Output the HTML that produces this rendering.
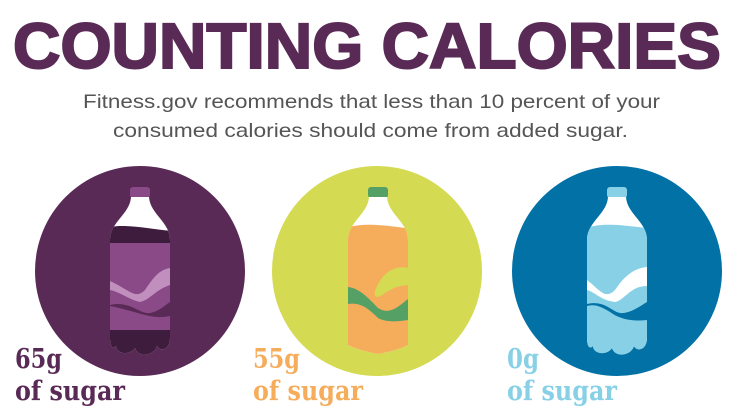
<!DOCTYPE html>
<html><head><meta charset="utf-8"><style>
html,body{margin:0;padding:0;background:#fff;width:740px;height:418px;overflow:hidden}
</style></head><body>
<svg width="740" height="418" viewBox="0 0 740 418" xmlns="http://www.w3.org/2000/svg">
<defs>
<path id="bt" d="M-9,197 L9,197 C10,214 30,222 30,240 L30,338 C30,350 20,352 17,346 C14,356 -2,358 -5,348 C-10,356 -24,354 -24,346 C-28,350 -30,345 -30,338 L-30,240 C-30,222 -10,214 -9,197 Z"/>
<clipPath id="c1"><use href="#bt" x="140"/></clipPath>
<clipPath id="c2"><path d="M-9,197 L9,197 C10,214 30,222 30,240 L30,345 C20,350 10,352 0,354 C-10,352 -20,350 -30,345 L-30,240 C-30,222 -10,214 -9,197 Z" transform="translate(378,0)"/></clipPath>
<clipPath id="c3"><use href="#bt" x="617"/></clipPath>
</defs>
<text x="13" y="68" font-family="Liberation Sans, sans-serif" font-weight="bold" font-size="64" fill="#5a2a57" stroke="#5a2a57" stroke-width="2" textLength="708" lengthAdjust="spacingAndGlyphs">COUNTING CALORIES</text>
<g font-family="Liberation Sans, sans-serif" font-size="19.5" fill="#555">
<text x="83" y="108" textLength="577" lengthAdjust="spacingAndGlyphs">Fitness.gov recommends that less than 10 percent of your</text>
<text x="113" y="137" textLength="515" lengthAdjust="spacingAndGlyphs">consumed calories should come from added sugar.</text>
</g>
<circle cx="140" cy="271" r="105" fill="#5a2a57"/>
<circle cx="377" cy="271" r="105" fill="#d4db52"/>
<circle cx="617" cy="271" r="105" fill="#0271a6"/>
<rect x="130" y="187" width="20" height="11" rx="3" fill="#8a4a88"/>
<g clip-path="url(#c1)">
<rect x="100" y="190" width="80" height="170" fill="#fff"/>
<path d="M100,230 C120,222 140,228 180,232 L180,360 L100,360Z" fill="#3e1c3e"/>
<rect x="110" y="243" width="60" height="87" fill="#8a4a88"/>
<path d="M110,281 C130,290 135,300 145,290 C155,275 160,270 170,268 L170,285 C155,290 150,300 140,302 C130,300 120,292 110,290Z" fill="#c08fbd"/>
<path d="M110,305 C130,300 140,315 150,313 C160,311 165,305 170,302 L170,316 C150,320 140,312 110,306Z" fill="#5a2a57"/>
</g>
<rect x="368" y="187" width="20" height="11" rx="3" fill="#55a064"/>
<g clip-path="url(#c2)">
<rect x="340" y="190" width="80" height="170" fill="#fff"/>
<path d="M340,230 C360,222 378,224 420,230 L420,360 L340,360Z" fill="#f5ad5c"/>
<path d="M382,278 C390,268 400,266 408,268 L408,285 C395,286 390,290 382,295 C375,300 370,295 382,278Z" fill="#d4db52"/>
<path d="M348,287 C360,288 370,300 378,308 C390,316 400,305 408,299 L408,320 C395,322 385,322 378,318 C368,308 360,302 348,304Z" fill="#55a064"/>
</g>
<rect x="607" y="187" width="20" height="11" rx="3" fill="#87d0e6"/>
<g clip-path="url(#c3)">
<rect x="580" y="190" width="80" height="170" fill="#fff"/>
<path d="M580,230 C600,222 617,224 660,230 L660,360 L580,360Z" fill="#87d0e6"/>
<path d="M587,280 C600,290 605,300 615,290 C625,275 635,268 647,267 L647,286 C630,286 625,300 615,302 C600,300 595,292 587,290Z" fill="#fff"/>
<path d="M587,304 C605,300 612,312 620,313 C630,314 640,306 647,302 L647,320 C630,322 618,318 610,312 C600,306 595,304 587,306Z" fill="#0271a6"/>
</g>
<g font-family="DejaVu Serif, serif" font-weight="bold" font-size="27">
<text x="15" y="368" fill="#5a2a57" textLength="47" lengthAdjust="spacingAndGlyphs">65g</text>
<text x="15" y="400" fill="#5a2a57" textLength="110" lengthAdjust="spacingAndGlyphs">of sugar</text>
<text x="253" y="368" fill="#f5ad5c" textLength="47" lengthAdjust="spacingAndGlyphs">55g</text>
<text x="253" y="400" fill="#f5ad5c" textLength="110" lengthAdjust="spacingAndGlyphs">of sugar</text>
<text x="507" y="368" fill="#87d0e6" textLength="32" lengthAdjust="spacingAndGlyphs">0g</text>
<text x="507" y="400" fill="#87d0e6" textLength="110" lengthAdjust="spacingAndGlyphs">of sugar</text>
</g>
</svg>
</body></html>
